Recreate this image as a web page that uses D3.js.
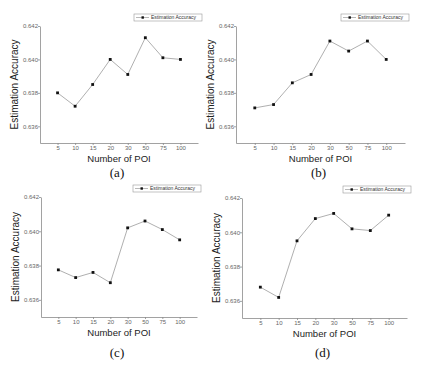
<!DOCTYPE html>
<html>
<head>
<meta charset="utf-8">
<script src="https://cdn.jsdelivr.net/npm/d3@7"></script>
<style>
    body { margin: 0; background: #fff; }
    svg { display: block; }
    .axis path, .axis line { stroke: #8a8a8a; stroke-width: 0.8; }
    .axis text { fill: #666; font-family: "Liberation Sans", Arial, sans-serif; font-size: 6px; }
</style>
</head>
<body>
<div id="chart"></div>
<script>
    // values
    let categories = ["5", "10", "15", "20", "30", "50", "75", "100"]
    let yTicks = [0.636, 0.638, 0.640, 0.642]
    let accA = [0.6380, 0.6372, 0.6385, 0.6400, 0.6391, 0.6413, 0.6401, 0.6400]
    let accB = [0.6371, 0.6373, 0.6386, 0.6391, 0.6411, 0.6405, 0.6411, 0.6400]
    let accC = [0.63775, 0.6373, 0.6376, 0.6370, 0.6402, 0.6406, 0.6401, 0.6395]
    let accD = [0.6368, 0.6362, 0.6395, 0.6408, 0.6411, 0.6402, 0.6401, 0.6410]
    let panelLabels = ["(a)", "(b)", "(c)", "(d)"]
    let seriesName = "Estimation Accuracy"

    let width = 421
    let height = 365

    let svg = d3.select("#chart")
        .append("svg")
        .attr("width", width)
        .attr("height", height)

    // plot boxes: left, right, top, bottom
    let panels = [
        { data: accA, label: panelLabels[0], l: 40, r: 198, t: 26, b: 143, cap: 177 },
        { data: accB, label: panelLabels[1], l: 236, r: 405, t: 26, b: 143, cap: 177 },
        { data: accC, label: panelLabels[2], l: 41, r: 197, t: 197, b: 317, cap: 357 },
        { data: accD, label: panelLabels[3], l: 242, r: 407, t: 198, b: 318, cap: 357 }
    ]

    panels.forEach(drawPanel)

    function drawPanel(p) {
        let g = svg.append("g")

        let x = d3.scalePoint()
            .domain(categories)
            .range([p.l, p.r])
            .padding(1)

        let y = d3.scaleLinear()
            .domain([0.635, 0.642])
            .range([p.b, p.t])

        let xAxis = d3.axisBottom(x)
            .tickSize(2)
            .tickPadding(0.5)
            .tickSizeOuter(0)

        let yAxis = d3.axisLeft(y)
            .tickValues(yTicks)
            .tickFormat(d3.format(".3f"))
            .tickSize(2)
            .tickPadding(0)
            .tickSizeOuter(0)

        g.append("g")
            .attr("class", "x axis")
            .attr("transform", "translate(0," + p.b + ")")
            .call(xAxis)

        g.append("g")
            .attr("class", "y axis")
            .attr("transform", "translate(" + p.l + ",0)")
            .call(yAxis)

        let line = d3.line()
            .x((d, i) => x(categories[i]))
            .y(d => y(d))

        g.append("path")
            .datum(p.data)
            .attr("d", line)
            .attr("fill", "none")
            .attr("stroke", "#9a9a9a")
            .attr("stroke-width", 0.8)

        g.append("g")
            .selectAll("rect")
            .data(p.data)
            .enter()
            .append("rect")
            .attr("x", (d, i) => x(categories[i]) - 1.4)
            .attr("y", d => y(d) - 1.4)
            .attr("width", 2.8)
            .attr("height", 2.8)
            .attr("fill", "#111")

        // legend box in the top right corner
        let lw = 68
        let lh = 7
        let lx = p.r + 4 - lw
        let ly = p.t - 12
        let leg = g.append("g")
        leg.append("rect")
            .attr("x", lx)
            .attr("y", ly)
            .attr("width", lw)
            .attr("height", lh)
            .attr("fill", "#fff")
            .attr("stroke", "#999")
            .attr("stroke-width", 0.6)
        leg.append("line")
            .attr("x1", lx + 2)
            .attr("x2", lx + 15)
            .attr("y1", ly + lh / 2)
            .attr("y2", ly + lh / 2)
            .attr("stroke", "#9a9a9a")
            .attr("stroke-width", 0.7)
        leg.append("rect")
            .attr("x", lx + 7.5)
            .attr("y", ly + lh / 2 - 1.2)
            .attr("width", 2.4)
            .attr("height", 2.4)
            .attr("fill", "#111")
        leg.append("text")
            .attr("x", lx + 17)
            .attr("y", ly + lh / 2 + 1.8)
            .attr("font-family", "Liberation Sans, Arial, sans-serif")
            .attr("font-size", "5px")
            .attr("fill", "#333")
            .text(seriesName)

        let mid = (x(categories[0]) + x(categories[categories.length - 1])) / 2

        g.append("text")
            .attr("text-anchor", "middle")
            .attr("x", mid)
            .attr("y", p.b + 19)
            .attr("font-family", "Liberation Sans, Arial, sans-serif")
            .attr("font-size", "9.5px")
            .attr("fill", "#222")
            .text("Number of POI")

        g.append("text")
            .attr("text-anchor", "middle")
            .attr("transform", "translate(" + (p.l - 22) + "," + ((p.t + p.b) / 2) + ") rotate(-90)")
            .attr("font-family", "Liberation Sans, Arial, sans-serif")
            .attr("font-size", "10px")
            .attr("fill", "#222")
            .text(seriesName)

        g.append("text")
            .attr("text-anchor", "middle")
            .attr("x", mid - 2)
            .attr("y", p.cap)
            .attr("font-family", "Liberation Serif, Times New Roman, serif")
            .attr("font-size", "13px")
            .attr("fill", "#111")
            .text(p.label)
    }
</script>
</body>
</html>
